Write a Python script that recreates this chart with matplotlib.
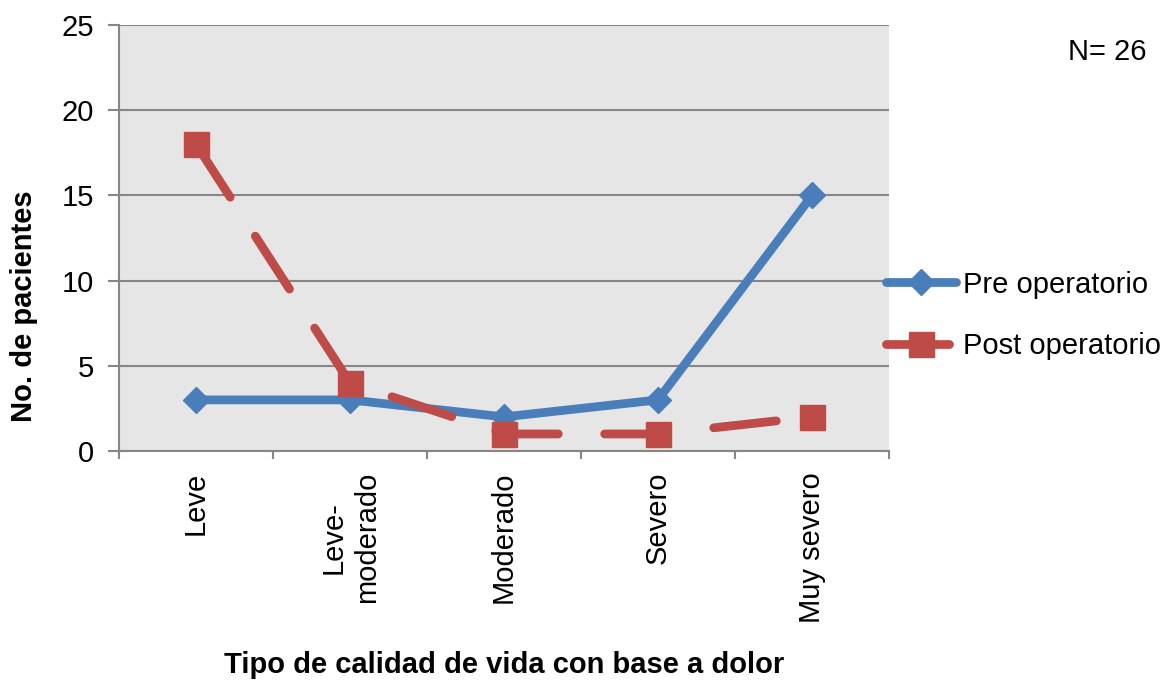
import numpy as np
import matplotlib
matplotlib.use("Agg")
import matplotlib.pyplot as plt
from matplotlib.ticker import FixedLocator, NullFormatter

plt.rcParams['font.family'] = ['Liberation Sans', 'DejaVu Sans']

categorias = ['Leve', 'Leve-\nmoderado', 'Moderado', 'Severo', 'Muy severo']
pre_operatorio = [3, 3, 2, 3, 15]
post_operatorio = [18, 4, 1, 1, 2]
y_ticks = [0, 5, 10, 15, 20, 25]

blue = '#4A7EBB'
red = '#BE4B48'
gray = '#868686'

fig = plt.figure(figsize=(11.64, 6.81), dpi=100)
ax = fig.add_axes([119 / 1164, 1 - 451 / 681, 770 / 1164, 426 / 681])
ax.set_facecolor('#E6E6E6')

x = np.arange(len(categorias))
ax.plot(x, pre_operatorio, color=blue, lw=6.3, marker='D', markersize=13.5,
        solid_capstyle='round', solid_joinstyle='round', label='Pre operatorio',
        zorder=3)
ax.plot(x, post_operatorio, color=red, lw=6.3, marker='s', markersize=18,
        dashes=(7.2, 5.3), dash_capstyle='round', label='Post operatorio',
        zorder=4)

ax.set_xlim(-0.5, len(categorias) - 0.5)
ax.set_ylim(0, 25)
ax.set_yticks(y_ticks)
ax.yaxis.grid(True, color=gray, lw=1.5)
ax.set_axisbelow(True)

# ticks at category boundaries, labels centred on categories
ax.xaxis.set_major_locator(FixedLocator(np.arange(-0.5, len(categorias), 1.0)))
ax.xaxis.set_major_formatter(NullFormatter())
ax.xaxis.set_minor_locator(FixedLocator(x))
ax.set_xticklabels(categorias, minor=True, rotation=90, va='top',
                   ha='center', fontsize=21, linespacing=1.25,
                   multialignment='center')
ax.tick_params(axis='x', which='minor', length=0, pad=15)
ax.tick_params(axis='x', which='major', length=6, width=1.5, color=gray)
ax.tick_params(axis='y', length=8, width=1.5, color=gray, labelsize=21, pad=10)

for side in ['top', 'right']:
    ax.spines[side].set_visible(False)
for side in ['left', 'bottom']:
    ax.spines[side].set_color(gray)
    ax.spines[side].set_linewidth(1.5)

fig.text(24 / 1164, 1 - 306 / 681, 'No. de pacientes', fontsize=21,
         fontweight='bold', rotation=90, ha='center', va='center')
fig.text(504 / 1164, 1 - 665 / 681, 'Tipo de calidad de vida con base a dolor',
         fontsize=21, fontweight='bold', ha='center', va='center')

fig.legend(loc='upper left', bbox_to_anchor=(874 / 1164, 1 - 259 / 681),
           frameon=False, fontsize=21, handlelength=2.4, handletextpad=0.25,
           labelspacing=1.15, borderaxespad=0)

fig.text(1146 / 1164, 1 - 52 / 681, 'N= 26', fontsize=21, ha='right',
         va='center')

fig.savefig('out.png', dpi=100)
